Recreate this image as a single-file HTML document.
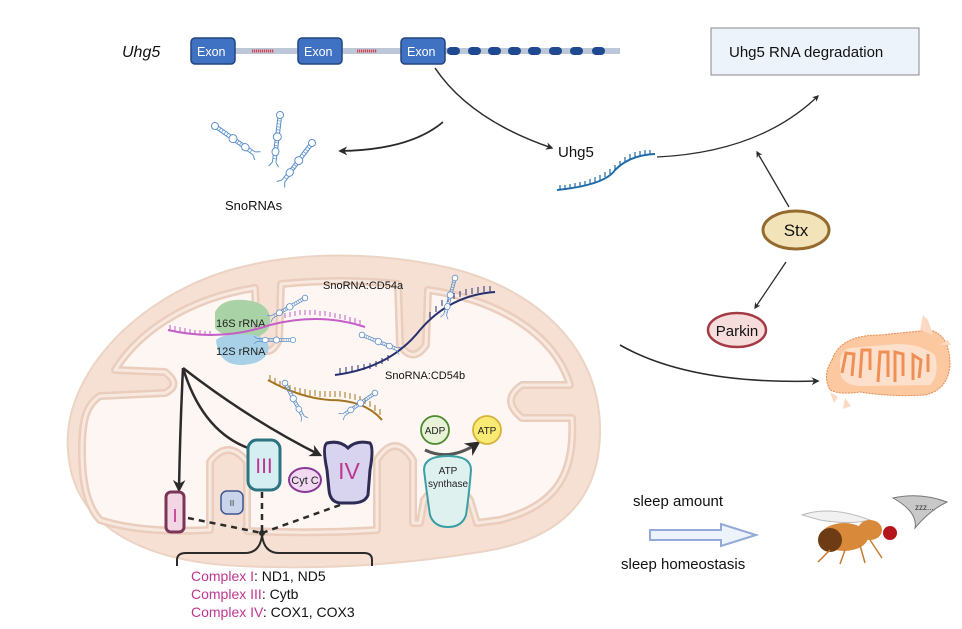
<!DOCTYPE html>
<html><head><meta charset="utf-8"><style>
html,body{margin:0;padding:0;background:#fff;}
svg{display:block;font-family:"Liberation Sans",Arial,sans-serif;}
</style></head><body>
<svg width="962" height="629" viewBox="0 0 962 629" xmlns="http://www.w3.org/2000/svg">
<defs>
<marker id="ah" viewBox="0 0 10 10" refX="8" refY="5" markerWidth="5" markerHeight="5" orient="auto"><path d="M0,0 L10,5 L0,10 L3,5 z" fill="#2b2b2b"/></marker>
<symbol id="hp" overflow="visible">
 <g fill="none" stroke="#5b8fcb" stroke-width="1">
  <circle cx="0" cy="0" r="3.5" fill="#fff"/>
  <path d="M3,-1.8 L48,-1.8 M3,1.8 L48,1.8" />
  <path d="M6,-2 v4 M9,-2 v4 M12,-2 v4 M15,-2 v4 M28,-2 v4 M31,-2 v4 M44,-2 v4" stroke-width="0.7"/>
  <ellipse cx="22" cy="0" rx="4" ry="4" fill="#fff"/>
  <ellipse cx="37" cy="0" rx="4" ry="3.5" fill="#fff"/>
  <path d="M48,-2 l4,-3 M48,2 l4,3"/>
 </g>
</symbol>
</defs>

<!-- gene -->
<text x="122" y="57" font-size="16" font-style="italic" fill="#111">Uhg5</text>
<rect x="192" y="48" width="428" height="6" fill="#bcc8d8"/>
<path d="M252,51 h22 M357,51 h20" stroke="#d9414a" stroke-width="3" stroke-dasharray="1.2 0.8"/>
<g fill="#3f72c2" stroke="#23457f" stroke-width="1.5">
<rect x="191" y="38" width="44" height="26" rx="4"/>
<rect x="298" y="38" width="44" height="26" rx="4"/>
<rect x="401" y="38" width="44" height="26" rx="4"/>
</g>
<g fill="#fff" font-size="12.5"><text x="197" y="56">Exon</text><text x="304" y="56">Exon</text><text x="407" y="56">Exon</text></g>
<g fill="#1f4a91">
<rect x="447" y="47" width="13" height="8" rx="4"/><rect x="468" y="47" width="13" height="8" rx="4"/><rect x="488" y="47" width="13" height="8" rx="4"/><rect x="508" y="47" width="13" height="8" rx="4"/><rect x="528" y="47" width="13" height="8" rx="4"/><rect x="549" y="47" width="13" height="8" rx="4"/><rect x="570" y="47" width="13" height="8" rx="4"/><rect x="592" y="47" width="13" height="8" rx="4"/>
</g>

<rect x="711" y="28" width="208" height="47" fill="#edf3fb" stroke="#888" stroke-width="1"/>
<text x="729" y="57" font-size="15" fill="#111">Uhg5 RNA degradation</text>

<!-- arrows top -->
<path d="M435,68 Q470,120 552,148" fill="none" stroke="#2b2b2b" stroke-width="1.5" marker-end="url(#ah)"/>
<path d="M443,122 Q410,150 340,151" fill="none" stroke="#2b2b2b" stroke-width="1.8" marker-end="url(#ah)"/>
<text x="558" y="157" font-size="15" fill="#111">Uhg5</text>
<text x="225" y="210" font-size="13" fill="#111">SnoRNAs</text>
<use href="#hp" transform="translate(215,126) rotate(35)"/>
<use href="#hp" transform="translate(280,115) rotate(97)"/>
<use href="#hp" transform="translate(312,143) rotate(127)"/>

<!-- uhg5 rna strand -->
<path d="M557,190 Q605,185 615,170 Q630,155 655,154" fill="none" stroke="#1f6aa8" stroke-width="2"/>
<path d="M560,190 v5 M565,190 v5 M570,189 v5 M575,188 v5 M580,187 v5 M585,186 v5 M590,184 v5 M595,182 v5 M600,180 v5 M605,177 v5 M610,174 v5 M615,170 v5 M620,166 v5 M625,162 v5 M630,159 v5 M635,157 v5 M640,156 v5 M645,155 v5 M650,155 v5" stroke="#1f6aa8" stroke-width="1.2" transform="translate(0,-5)"/>
<path d="M657,157 Q760,152 818,96" fill="none" stroke="#2b2b2b" stroke-width="1.3" marker-end="url(#ah)"/>

<!-- Stx -->
<path d="M789,207 L757,152" stroke="#2b2b2b" stroke-width="1.3" marker-end="url(#ah)"/>
<path d="M786,262 L755,308" stroke="#2b2b2b" stroke-width="1.3" marker-end="url(#ah)"/>
<ellipse cx="796" cy="230" rx="33" ry="19" fill="#f2e3b8" stroke="#946a2e" stroke-width="3"/>
<text x="796" y="236" font-size="17" text-anchor="middle" fill="#111">Stx</text>
<ellipse cx="737" cy="330" rx="29" ry="17" fill="#f7dcdc" stroke="#a33a44" stroke-width="2.5"/>
<text x="737" y="336" font-size="15" text-anchor="middle" fill="#111">Parkin</text>

<path d="M620,345 Q690,385 818,381" fill="none" stroke="#2b2b2b" stroke-width="1.6" marker-end="url(#ah)"/>

<!-- small orange mito -->
<g>
<path d="M832,360 Q840,335 880,335 Q910,332 930,330 Q950,335 950,365 Q948,390 925,395 Q890,397 860,392 Q840,395 830,390 Q822,375 832,360 z" fill="#fbc8a0" stroke="#e48a4e" stroke-width="1" stroke-dasharray="2 1"/>
<path d="M840,360 Q842,350 850,348 L898,344 Q920,344 935,355 Q940,375 930,385 L860,386 Q842,385 840,372 z" fill="#fde0cc"/>
<path d="M842,373 l4,-20 l8,1 l-2,22 M860,378 l2,-28 l8,0 l0,20 M878,382 l2,-30 l8,0 l0,25 M895,382 l0,-30 l8,2 l0,22 M913,380 l0,-25 l8,5 l-2,18 M928,372 l0,-18" fill="none" stroke="#f08f55" stroke-width="3"/>
<path d="M920,330 l3,-15 l5,5 l5,15 z M940,345 l8,-5 l3,5 z M830,392 l8,5 l-4,6 z M845,398 l6,8 l-8,3 z" fill="#fcd9c2"/>
</g>

<!-- sleep -->
<text x="633" y="506" font-size="15" fill="#111">sleep amount</text>
<path d="M650,530 h71 v-6 l35,11 l-35,11 v-6 h-71 z" fill="#edf3fb" stroke="#93a9d8" stroke-width="2"/>
<text x="621" y="569" font-size="15" fill="#111">sleep homeostasis</text>
<!-- fly -->
<g>
<path d="M802,515 Q830,505 870,520 Q850,525 820,520 z" fill="#f1f1f1" stroke="#bbb" stroke-width="1"/>
<ellipse cx="844" cy="537" rx="24" ry="14" fill="#d9893a"/>
<ellipse cx="830" cy="540" rx="12" ry="12" fill="#6e3c14"/>
<ellipse cx="870" cy="530" rx="12" ry="10" fill="#d9893a"/>
<circle cx="890" cy="533" r="7" fill="#b4161c"/>
<path d="M830,550 l-12,12 M845,550 l-5,14 M860,545 l5,18 M870,540 l12,18" stroke="#c77b33" stroke-width="1.5"/>
<path d="M893,498 Q920,492 947,502 Q930,510 915,528 Q918,512 893,498 z" fill="#c8c8c8" stroke="#777" stroke-width="1"/>
<text x="915" y="510" font-size="8" fill="#333">zzz...</text>
</g>

<!-- big mitochondrion -->
<path d="M68,450 C62,380 130,300 230,270 C300,250 380,252 450,268 C540,290 600,350 600,430 C600,500 560,540 480,552 C400,565 320,570 240,566 C150,562 72,530 68,450 z" fill="#f6e0d3" stroke="#ecd3c4" stroke-width="2"/>
<path d="M82,450 C82,420 86,405 100,396 L165,393 Q182,385 165,372 L115,370 C140,330 190,298 255,288 L257,340 Q268,362 279,340 L281,284 C320,280 360,280 398,284 L400,345 Q413,364 426,345 L428,290 C500,300 555,335 570,385 L522,385 Q500,400 522,418 L572,418 C575,470 560,505 500,520 L477,523 L470,500 Q448,468 424,500 L420,523 L413,523 L413,460 Q395,432 377,460 L377,530 C330,533 290,533 247,531 L247,462 Q228,438 210,462 L210,530 C170,532 130,530 100,520 C86,505 82,480 82,450 z" fill="#fef6f2" stroke="#eacdbc" stroke-width="8" stroke-linejoin="round"/>
<path d="M82,450 C82,420 86,405 100,396 L165,393 Q182,385 165,372 L115,370 C140,330 190,298 255,288 L257,340 Q268,362 279,340 L281,284 C320,280 360,280 398,284 L400,345 Q413,364 426,345 L428,290 C500,300 555,335 570,385 L522,385 Q500,400 522,418 L572,418 C575,470 560,505 500,520 L477,523 L470,500 Q448,468 424,500 L420,523 L413,523 L413,460 Q395,432 377,460 L377,530 C330,533 290,533 247,531 L247,462 Q228,438 210,462 L210,530 C170,532 130,530 100,520 C86,505 82,480 82,450 z" fill="none" stroke="#f8e9e0" stroke-width="3" stroke-linejoin="round"/>

<!-- rRNA -->
<path d="M215,312 Q222,298 245,300 Q268,302 270,318 Q272,335 250,338 Q222,338 215,328 z" fill="#a9d3a7"/>
<path d="M216,340 Q225,332 255,335 Q272,340 268,352 Q262,365 240,365 Q218,364 216,340 z" fill="#a8d0e6"/>
<text x="216" y="327" font-size="11" fill="#222">16S rRNA</text>
<text x="216" y="355" font-size="11" fill="#222">12S rRNA</text>
<path d="M168,330 Q220,342 270,325 Q320,312 365,327" fill="none" stroke="#c45fc7" stroke-width="2"/>
<path d="M170,330 v-5 M175,331 v-5 M180,332 v-5 M185,333 v-5 M190,334 v-5 M195,335 v-5 M200,335 v-5 M205,336 v-5 M210,336 v-5 M255,330 v-5 M285,318 v-5 M290,317 v-5 M295,316 v-5 M300,315 v-5 M305,315 v-5 M310,315 v-5 M315,315 v-5 M320,316 v-5 M325,316 v-5 M330,317 v-5 M335,318 v-5 M340,319 v-5 M345,320 v-5 M350,322 v-5 M355,323 v-5 M360,325 v-5" stroke="#c45fc7" stroke-width="1"/>
<use href="#hp" transform="translate(305,298) rotate(150) scale(0.8)"/>
<use href="#hp" transform="translate(293,340) rotate(180) scale(0.75)"/>

<text x="323" y="289" font-size="11" fill="#111">SnoRNA:CD54a</text>
<text x="385" y="379" font-size="11" fill="#111">SnoRNA:CD54b</text>
<path d="M335,375 Q390,368 420,330 Q450,295 495,292" fill="none" stroke="#27306e" stroke-width="2"/>
<path d="M340,374 v-6 M346,373 v-6 M352,372 v-6 M358,371 v-6 M364,370 v-6 M370,369 v-6 M376,367 v-6 M382,364 v-6 M388,361 v-6 M430,318 v-6 M436,312 v-6 M442,306 v-6 M448,302 v-6 M454,299 v-6 M460,297 v-6 M466,295 v-6 M472,294 v-6 M478,293 v-6 M484,292 v-6 M490,292 v-6" stroke="#27306e" stroke-width="1"/>
<use href="#hp" transform="translate(455,278) rotate(105) scale(0.8)"/>
<use href="#hp" transform="translate(362,335) rotate(22) scale(0.8)"/>

<path d="M268,380 Q300,398 330,400 Q365,400 382,420" fill="none" stroke="#a47521" stroke-width="2"/>
<path d="M270,380 v6 M275,383 v6 M280,386 v6 M285,388 v6 M290,390 v6 M295,392 v6 M300,393 v6 M305,394 v6 M310,395 v6 M315,395 v6 M320,396 v6 M325,396 v6 M330,396 v6 M335,396 v6 M340,396 v6 M345,397 v6 M350,398 v6 M355,399 v6 M360,401 v6 M365,403 v6 M370,406 v6 M375,410 v6 M380,414 v6" stroke="#a47521" stroke-width="1" transform="translate(0,-5)"/>
<use href="#hp" transform="translate(285,383) rotate(62) scale(0.8)"/>
<use href="#hp" transform="translate(375,393) rotate(145) scale(0.8)"/>

<!-- arrows to complexes -->
<g fill="none" stroke="#2b2b2b" stroke-width="2.5">
<path d="M183,368 Q180,430 179,490" marker-end="url(#ah)"/>
<path d="M183,368 Q205,440 262,452" marker-end="url(#ah)"/>
<path d="M183,368 Q250,420 320,455" marker-end="url(#ah)"/>
</g>

<!-- complexes -->
<rect x="166" y="492" width="18" height="40" rx="5" fill="#f3d6e3" stroke="#7a3557" stroke-width="3"/>
<text x="175" y="522" font-size="18" fill="#c0368f" text-anchor="middle">I</text>
<rect x="221" y="491" width="22" height="23" rx="6" fill="#c9d3ea" stroke="#3c5591" stroke-width="1.5"/>
<text x="232" y="506" font-size="8" text-anchor="middle" fill="#333">II</text>
<rect x="248" y="440" width="32" height="50" rx="9" fill="#d4eef1" stroke="#2d7380" stroke-width="3"/>
<text x="264" y="473" font-size="21" fill="#c0368f" text-anchor="middle">III</text>
<path d="M327,443 Q340,440 348,448 Q356,440 370,443 Q374,448 370,470 L368,495 Q365,503 352,503 L340,503 Q330,502 329,490 L327,470 Q322,446 327,443 z" fill="#d8d3ef" stroke="#2e2b55" stroke-width="3"/>
<text x="349" y="479" font-size="23" fill="#c0368f" text-anchor="middle">IV</text>
<ellipse cx="305" cy="480" rx="16" ry="12" fill="#f2d9f2" stroke="#8a3a96" stroke-width="2"/>
<text x="305" y="484" font-size="11" text-anchor="middle" fill="#222">Cyt C</text>

<!-- ATP -->
<path d="M425,450 Q450,462 478,443" fill="none" stroke="#555" stroke-width="3" marker-end="url(#ah)"/>
<circle cx="435" cy="430" r="14" fill="#e7f2d7" stroke="#4d8a2e" stroke-width="1.8"/>
<text x="435" y="434" font-size="10" text-anchor="middle" fill="#222">ADP</text>
<circle cx="487" cy="430" r="14" fill="#f8ea73" stroke="#d6b33b" stroke-width="1.8"/>
<text x="487" y="434" font-size="10" text-anchor="middle" fill="#222">ATP</text>
<path d="M424,470 Q424,456 448,456 Q471,456 471,470 Q469,495 466,515 Q462,527 448,527 Q434,527 430,515 Q427,495 424,470 z" fill="#dff1ef" stroke="#3aa0a6" stroke-width="2"/>
<text x="448" y="474" font-size="10" text-anchor="middle" fill="#222">ATP</text>
<text x="448" y="487" font-size="10" text-anchor="middle" fill="#222">synthase</text>

<!-- dashed lines & brace -->
<g stroke="#2b2b2b" stroke-width="2.5" stroke-dasharray="6 5" fill="none">
<path d="M188,518 L262,533"/><path d="M262,492 L262,533"/><path d="M340,505 L262,533"/>
</g>
<circle cx="262" cy="533" r="3" fill="#2b2b2b"/>
<path d="M177,566 L177,560 Q177,553 186,553 L245,553 Q260,553 262,535 Q264,553 279,553 L364,553 Q372,553 372,560 L372,566" fill="none" stroke="#2b2b2b" stroke-width="2"/>
<g font-size="14">
<text x="191" y="581"><tspan fill="#c0368f">Complex I</tspan><tspan fill="#111">: ND1, ND5</tspan></text>
<text x="191" y="599"><tspan fill="#c0368f">Complex III</tspan><tspan fill="#111">: Cytb</tspan></text>
<text x="191" y="617"><tspan fill="#c0368f">Complex IV</tspan><tspan fill="#111">: COX1, COX3</tspan></text>
</g>
</svg>
</body></html>
